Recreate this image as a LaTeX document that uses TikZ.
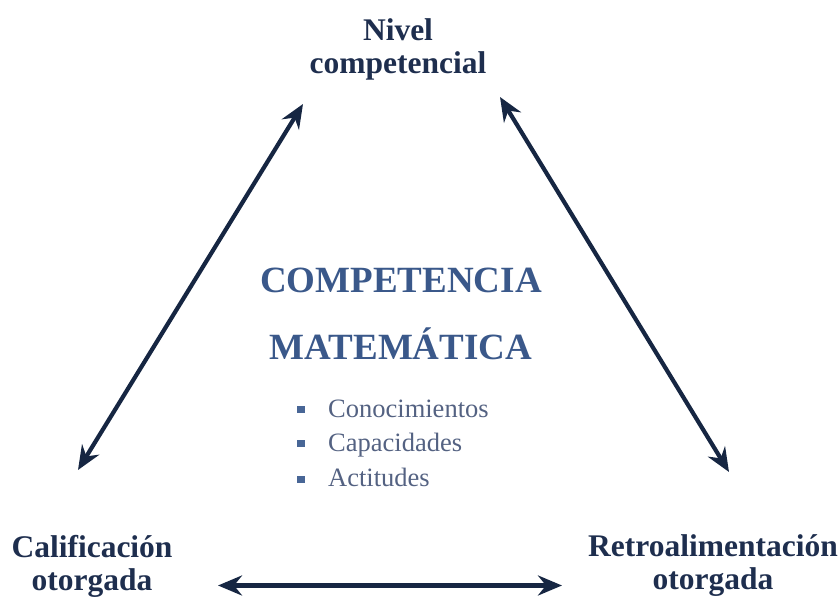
\documentclass[tikz,border=0pt]{standalone}
\usepackage{fontspec}
\setmainfont{Liberation Serif}
\usetikzlibrary{arrows.meta}
\definecolor{navy}{RGB}{30,46,78}
\definecolor{arrowc}{RGB}{22,38,66}
\definecolor{titleblue}{RGB}{58,88,138}
\definecolor{listc}{RGB}{84,98,130}
\definecolor{bulletc}{RGB}{72,102,150}
\tikzset{
  corner/.style={align=center, text=navy, font=\fontsize{31.5}{33}\selectfont\bfseries, inner sep=0pt},
  titletext/.style={anchor=base, text=titleblue, font=\fontsize{37}{40}\selectfont\bfseries, inner sep=0pt},
  itemtext/.style={anchor=base west, text=listc, font=\fontsize{26.5}{28}\selectfont, inner sep=0pt},
  bulletbox/.style={fill=bulletc, minimum width=7.5pt, minimum height=7pt, inner sep=0pt},
  link/.style={arrowc, line width=4.2pt, {Stealth[length=24pt,width=20pt,inset=8pt]}-{Stealth[length=24pt,width=20pt,inset=8pt]}}
}
\begin{document}
\begin{tikzpicture}[x=1pt,y=1pt]
\useasboundingbox (0,0) rectangle (839,599);
\node[corner] (top) at (398,550) {Nivel\\competencial};
\node[corner] (left) at (92,33) {Calificación\\otorgada};
\node[corner] (right) at (713,33) {Retroalimentación\\otorgada};
\node[titletext] (t1) at (401,306) {COMPETENCIA};
\node[titletext] (t2) at (401,239) {MATEMÁTICA};
\node[itemtext] (i1) at (328,181) {Conocimientos};
\node[itemtext] (i2) at (328,147) {Capacidades};
\node[itemtext] (i3) at (328,112) {Actitudes};
\node[bulletbox] (b1) at (301,189) {};
\node[bulletbox] (b2) at (301,155.5) {};
\node[bulletbox] (b3) at (301,119.5) {};
\coordinate (aL1) at (78,129);
\coordinate (aL2) at (303,495);
\coordinate (aR1) at (500,502);
\coordinate (aR2) at (729,127);
\coordinate (aB1) at (218,13.5);
\coordinate (aB2) at (562,13.5);
\draw[link] (aL1) -- (aL2);
\draw[link] (aR1) -- (aR2);
\draw[link] (aB1) -- (aB2);
\end{tikzpicture}
\end{document}
